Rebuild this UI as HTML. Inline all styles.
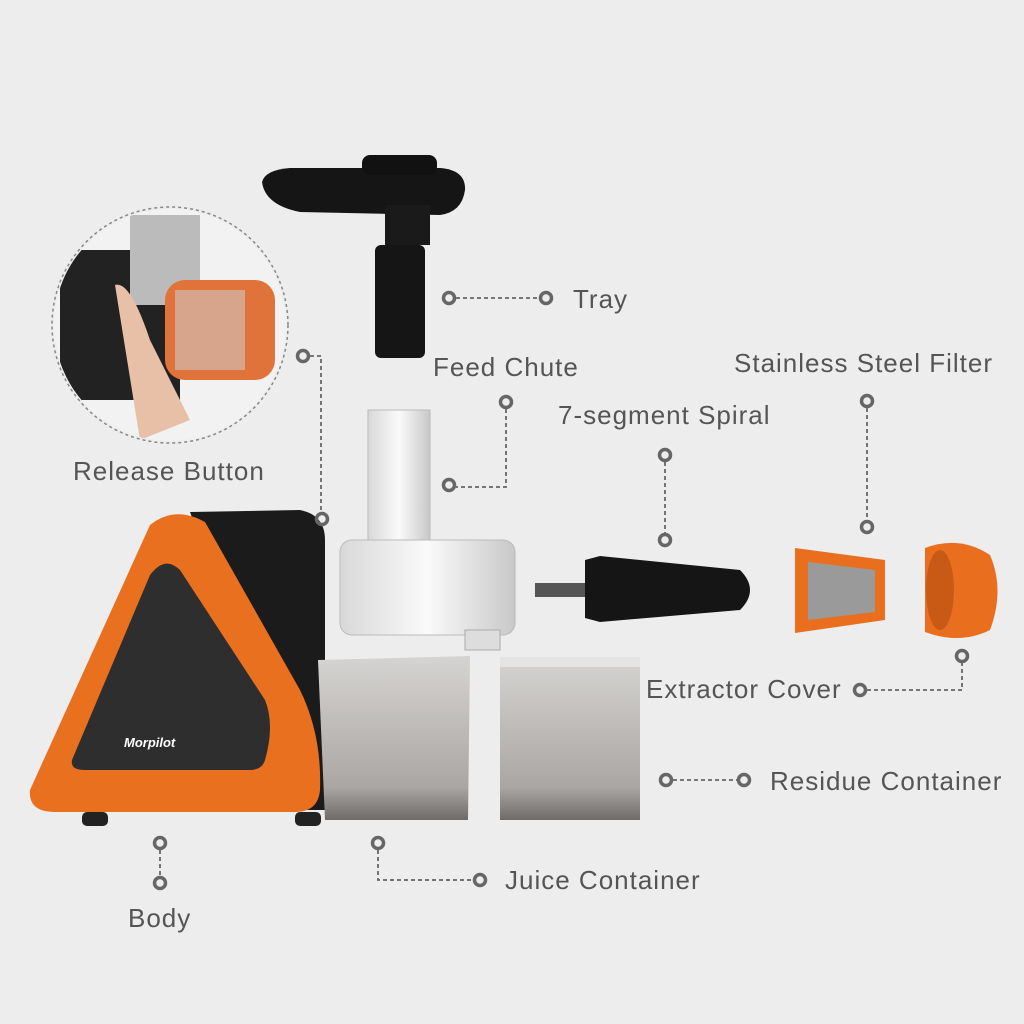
<!DOCTYPE html>
<html><head><meta charset="utf-8"><style>
html,body{margin:0;padding:0;background:#ededed;}
svg{display:block}
text{font-family:"Liberation Sans",sans-serif;font-size:26px;fill:#555;letter-spacing:1px;}
.n{fill:none;stroke:#666;stroke-width:3.5}
.d{fill:none;stroke:#666;stroke-width:1.8;stroke-dasharray:4 3}
</style></head><body>
<svg width="1024" height="1024" viewBox="0 0 1024 1024" xmlns="http://www.w3.org/2000/svg">
<defs>
<linearGradient id="g1" x1="0" x2="1"><stop offset="0" stop-color="#d8d8d8"/><stop offset=".5" stop-color="#fafafa"/><stop offset="1" stop-color="#c8c8c8"/></linearGradient>
<linearGradient id="gc" x1="0" y1="0" x2="0" y2="1"><stop offset="0" stop-color="#d6d4d2"/><stop offset=".8" stop-color="#a9a6a3"/><stop offset="1" stop-color="#6e6b69"/></linearGradient>
<clipPath id="cc"><circle cx="170" cy="325" r="116"/></clipPath>
</defs>
<rect width="1024" height="1024" fill="#ededed"/>
<g clip-path="url(#cc)">
<rect x="50" y="205" width="240" height="240" fill="#f2f2f2"/>
<rect x="60" y="250" width="120" height="150" fill="#222"/>
<rect x="130" y="215" width="70" height="90" fill="#bbb"/>
<rect x="165" y="280" width="110" height="100" rx="20" fill="#e0733a"/>
<rect x="175" y="290" width="70" height="80" fill="#d7a58c"/>
<path d="M115 285 Q130 280 150 340 L190 420 L140 440 Z" fill="#e8c0a8"/>
</g>
<circle cx="170" cy="325" r="118" fill="none" stroke="#888" stroke-width="1.5" stroke-dasharray="3 3"/>
<path d="M262 182 Q265 170 290 168 L440 168 Q466 170 465 190 Q462 212 440 215 L300 212 Q265 205 262 182Z" fill="#151515"/>
<rect x="362" y="155" width="75" height="20" rx="8" fill="#111"/>
<rect x="385" y="205" width="45" height="40" fill="#1a1a1a"/>
<rect x="375" y="245" width="50" height="113" rx="6" fill="#151515"/>
<path d="M190 512 L300 510 Q325 515 325 540 L325 810 L300 810 Z" fill="#1b1b1b"/>
<path d="M30 790 L150 525 Q175 505 205 522 L300 690 Q322 735 320 790 Q318 812 295 812 L55 812 Q28 812 30 790Z" fill="#e9701f"/>
<path d="M72 760 L150 575 Q165 555 180 570 L265 700 Q275 725 265 760 Q262 770 250 770 L85 770 Q70 770 72 760Z" fill="#2e2e2e"/>
<text x="124" y="747" style="font-size:13px;font-weight:bold;font-style:italic;fill:#fff;letter-spacing:0">Morpilot</text>
<rect x="82" y="812" width="26" height="14" rx="5" fill="#222"/>
<rect x="295" y="812" width="26" height="14" rx="5" fill="#222"/>
<path d="M318 660 L470 656 L468 820 L325 820 Z" fill="url(#gc)"/>
<rect x="500" y="657" width="140" height="163" fill="url(#gc)"/>
<rect x="500" y="657" width="140" height="10" fill="#e4e4e4"/>
<rect x="368" y="410" width="62" height="150" fill="url(#g1)" stroke="#bbb"/>
<rect x="340" y="540" width="175" height="95" rx="12" fill="url(#g1)" stroke="#bbb"/>
<rect x="465" y="630" width="35" height="20" fill="#ddd" stroke="#aaa"/>
<rect x="535" y="583" width="55" height="14" fill="#555"/>
<path d="M585 560 L600 556 L740 570 Q760 590 740 610 L600 622 L585 618Z" fill="#151515"/>
<path d="M795 548 L885 560 L885 620 L795 633 Z" fill="#e96f1f"/>
<path d="M808 562 L875 570 L875 612 L808 620 Z" fill="#9a9a9a"/>
<path d="M925 548 Q960 535 990 555 Q1005 590 990 630 Q960 645 925 632 Z" fill="#e96f1f"/>
<ellipse cx="940" cy="590" rx="14" ry="40" fill="#c85a15"/>
<g>
<circle class="n" cx="449" cy="298" r="5.5"/><circle class="n" cx="546" cy="298" r="5.5"/><line class="d" x1="456" y1="298" x2="539" y2="298"/>
<text x="573" y="308">Tray</text>
<text x="433" y="376">Feed Chute</text>
<circle class="n" cx="506" cy="402" r="5.5"/><circle class="n" cx="449" cy="485" r="5.5"/><polyline class="d" points="506,409 506,487 456,487"/>
<text x="73" y="480">Release Button</text>
<circle class="n" cx="303" cy="356" r="5.5"/><circle class="n" cx="322" cy="519" r="5.5"/><polyline class="d" points="310,356 321,356 321,512"/>
<text x="558" y="424">7-segment Spiral</text>
<circle class="n" cx="665" cy="455" r="5.5"/><circle class="n" cx="665" cy="540" r="5.5"/><line class="d" x1="665" y1="462" x2="665" y2="533"/>
<text x="734" y="372">Stainless Steel Filter</text>
<circle class="n" cx="867" cy="401" r="5.5"/><circle class="n" cx="867" cy="527" r="5.5"/><line class="d" x1="867" y1="408" x2="867" y2="520"/>
<text x="646" y="698">Extractor Cover</text>
<circle class="n" cx="860" cy="690" r="5.5"/><circle class="n" cx="962" cy="656" r="5.5"/><polyline class="d" points="867,690 962,690 962,663"/>
<circle class="n" cx="666" cy="780" r="5.5"/><circle class="n" cx="744" cy="780" r="5.5"/><line class="d" x1="673" y1="780" x2="737" y2="780"/>
<text x="770" y="790">Residue Container</text>
<circle class="n" cx="378" cy="843" r="5.5"/><circle class="n" cx="480" cy="880" r="5.5"/><polyline class="d" points="378,850 378,880 473,880"/>
<text x="505" y="889">Juice Container</text>
<circle class="n" cx="160" cy="843" r="5.5"/><circle class="n" cx="160" cy="883" r="5.5"/><line class="d" x1="160" y1="850" x2="160" y2="876"/>
<text x="128" y="927">Body</text>
</g>
</svg>
</body></html>
